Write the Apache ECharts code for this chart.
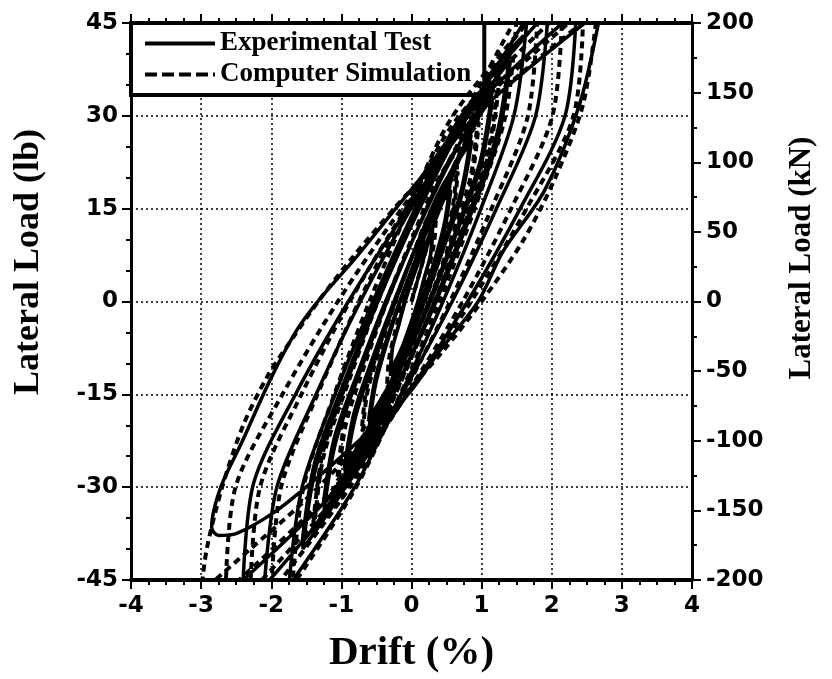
<!DOCTYPE html>
<html>
<head>
<meta charset="utf-8">
<script src="https://cdn.jsdelivr.net/npm/echarts@6/dist/echarts.min.js"></script>
<style>
html,body{margin:0;padding:0;background:#fff;}
#chart{width:832px;height:679px;}
</style>
</head>
<body>
<div id="chart"></div>
<script>
// Tick values
const driftTicks = [-4, -3, -2, -1, 0, 1, 2, 3, 4];
const loadLbTicks = [-45, -30, -15, 0, 15, 30, 45];
const loadKnTicks = [-200, -150, -100, -50, 0, 50, 100, 150, 200];

// Series / axis names
const seriesNames = ['Experimental Test', 'Computer Simulation'];
const axisNames = {x: 'Drift (%)', left: 'Lateral Load (lb)', right: 'Lateral Load (kN)'};

// Experimental test hysteresis: [drift %, lateral load lb]
const experimentalTest = [
  [0,0],
  [0.30,12],[0.28,8],[0.19,4],[0.10,0],[-0.01,-4],[-0.13,-8],[-0.30,-12],[-0.28,-8],[-0.19,-4],[-0.10,0],[0.01,4],[0.13,8],
  [0.29,11],[0.27,7.5],[0.18,3.8],[0.09,0],[-0.02,-3.8],[-0.14,-7.5],[-0.29,-11],[-0.27,-7.5],[-0.18,-3.8],[-0.09,0],[0.02,3.8],[0.14,7.5],
  [0.55,19],[0.47,12.7],[0.32,6.3],[0.14,0],[-0.07,-6.7],[-0.29,-13.3],[-0.60,-20],[-0.51,-13.3],[-0.35,-6.7],[-0.16,0],[0.04,6.3],[0.25,12.7],
  [0.56,18],[0.48,12],[0.33,6],[0.15,0],[-0.06,-6.3],[-0.28,-12.6],[-0.61,-19],[-0.52,-12.6],[-0.36,-6.3],[-0.17,0],[0.03,6],[0.24,12],
  [0.85,27],[0.71,18],[0.45,9],[0.17,0],[-0.15,-9.3],[-0.50,-18.7],[-0.95,-28],[-0.80,-18.7],[-0.53,-9.3],[-0.23,0],[0.07,9],[0.41,18],
  [0.86,26],[0.72,17.3],[0.46,8.7],[0.18,0],[-0.14,-9],[-0.49,-18],[-0.96,-27],[-0.82,-18],[-0.55,-9],[-0.25,0],[0.06,8.7],[0.40,17.3],
  [1.15,34],[0.98,22.7],[0.63,11.3],[0.25,0],[-0.17,-11.3],[-0.63,-22.7],[-1.25,-34],[-1.08,-22.7],[-0.73,-11.3],[-0.35,0],[0.07,11.3],[0.53,22.7],
  [1.16,33],[0.99,22],[0.64,11],[0.27,0],[-0.16,-11],[-0.62,-22],[-1.26,-33],[-1.10,-22],[-0.75,-11],[-0.37,0],[0.06,11],[0.52,22],
  [1.40,40],[1.21,26.7],[0.79,13.3],[0.33,0],[-0.19,-13.3],[-0.76,-26.7],[-1.55,-40],[-1.36,-26.7],[-0.94,-13.3],[-0.48,0],[0.04,13.3],[0.61,26.7],
  [1.41,39],[1.23,26],[0.81,13],[0.35,0],[-0.18,-13],[-0.75,-26],[-1.56,-39],[-1.38,-26],[-0.96,-13],[-0.50,0],[0.03,13],[0.60,26],
  [1.65,46],[1.46,30],[0.99,15],[0.45,0],[-0.15,-15],[-0.81,-30],[-1.75,-46],[-1.56,-30],[-1.09,-15],[-0.55,0],[0.05,15],[0.71,30],
  [1.95,47],[1.77,30],[1.21,15],[0.58,0],[-0.14,-15],[-0.94,-30],[-2.10,-46],[-1.92,-30],[-1.36,-15],[-0.73,0],[-0.01,15],[0.79,30],
  [2.35,47],[2.19,30],[1.55,15],[0.80,0],[-0.04,-14.7],[-0.98,-29.3],[-2.40,-45],[-2.25,-29.3],[-1.64,-14.7],[-0.90,0],[-0.05,15],[0.91,30],
  [2.70,47],[2.40,32],[1.90,18],[1.30,8],[0.95,0],[0.40,-8],[-0.05,-15],[-0.70,-22],[-1.40,-29],[-1.95,-34],[-2.50,-37.5],[-2.75,-37.8],[-2.85,-36.5],
  [-2.72,-30],[-2.43,-23],[-2.00,-12.3],[-1.64,-4.7],[-1.30,0.5],[-0.80,7],[-0.30,14],[0.20,21],[0.75,30],[1.20,38],[1.60,43]
];

// Computer simulation hysteresis: [drift %, lateral load lb]
const computerSimulation = [
  [0,0],
  [0.35,14],[0.32,9.3],[0.23,4.7],[0.12,0],[-0.01,-4.7],[-0.14,-9.3],[-0.35,-14],[-0.32,-9.3],[-0.23,-4.7],[-0.12,0],[0.01,4.7],[0.14,9.3],
  [0.65,22],[0.58,14.7],[0.39,7.3],[0.18,0],[-0.06,-7.3],[-0.33,-14.7],[-0.70,-22],[-0.63,-14.7],[-0.44,-7.3],[-0.23,0],[0.01,7.3],[0.28,14.7],
  [0.66,21],[0.59,14],[0.40,7],[0.19,0],[-0.05,-7],[-0.32,-14],[-0.71,-21],[-0.64,-14],[-0.45,-7],[-0.24,0],[0.00,7],[0.27,14],
  [0.95,30],[0.84,20],[0.56,10],[0.25,0],[-0.10,-10],[-0.49,-20],[-1.05,-30],[-0.94,-20],[-0.66,-10],[-0.35,0],[0.00,10],[0.39,20],
  [0.96,29],[0.85,19.3],[0.57,9.7],[0.26,0],[-0.09,-9.7],[-0.48,-19.3],[-1.06,-29],[-0.95,-19.3],[-0.67,-9.7],[-0.36,0],[-0.01,9.7],[0.38,19.3],
  [1.25,38],[1.11,25.3],[0.74,12.7],[0.33,0],[-0.14,-12.7],[-0.66,-25.3],[-1.40,-38],[-1.26,-25.3],[-0.89,-12.7],[-0.48,0],[-0.01,12.7],[0.51,25.3],
  [1.26,37],[1.12,24.7],[0.75,12.3],[0.34,0],[-0.13,-12.3],[-0.65,-24.7],[-1.41,-37],[-1.27,-24.7],[-0.90,-12.3],[-0.49,0],[-0.02,12.3],[0.50,24.7],
  [1.50,46],[1.34,30],[0.90,15],[0.40,0],[-0.16,-15],[-0.79,-30],[-1.70,-46],[-1.54,-30],[-1.10,-15],[-0.60,0],[-0.04,15],[0.59,30],
  [1.80,47],[1.66,30],[1.14,15],[0.55,0],[-0.12,-15],[-0.88,-30],[-2.00,-47],[-1.86,-30],[-1.34,-15],[-0.75,0],[-0.08,15],[0.68,30],
  [2.15,47],[2.01,30],[1.42,15],[0.73,0],[-0.07,-15],[-0.96,-30],[-2.30,-47],[-2.16,-30],[-1.57,-15],[-0.88,0],[-0.08,15],[0.81,30],
  [2.45,47],[2.31,30],[1.64,15],[0.85,0],[-0.06,-15],[-1.09,-30],[-2.65,-47],[-2.51,-30],[-1.84,-15],[-1.05,0],[-0.14,15],[0.89,30],
  [2.65,47],[2.45,32],[2.05,20],[1.60,10],[1.00,0],[0.45,-8],[-0.10,-15],[-0.90,-25],[-1.60,-33],[-2.30,-40],[-3.00,-47],
  [-2.92,-40],[-2.70,-30],[-2.40,-20],[-2.05,-12],[-1.70,-6],[-1.33,0],[-0.85,7],[-0.25,15],[0.30,22],[0.80,30],[1.30,40],[1.80,47]
];

const chart = echarts.init(document.getElementById('chart'), null, {renderer: 'canvas'});
const tickFont = {color: '#000', fontFamily: 'DejaVu Sans, Arial, sans-serif', fontWeight: 'bold', fontSize: 23};
const serif = 'Liberation Serif, Times New Roman, serif';
const nameFont = {color: '#000', fontFamily: serif, fontWeight: 'bold'};

function stepOf(arr) { return arr[1] - arr[0]; }

chart.setOption({
  animation: false,
  backgroundColor: '#fff',
  grid: {left: 131, right: 140, top: 23, bottom: 96, containLabel: false},
  legend: {
    left: 131, top: 23,
    orient: 'vertical',
    data: [
      {name: seriesNames[0], lineStyle: {width: 4, type: 'solid', color: '#000'},
       itemStyle: {color: 'rgba(0,0,0,0)', borderWidth: 0, opacity: 0}},
      {name: seriesNames[1], lineStyle: {width: 4, type: [12, 5], color: '#000'},
       itemStyle: {color: 'rgba(0,0,0,0)', borderWidth: 0, opacity: 0}}
    ],
    itemWidth: 70, itemHeight: 28, itemGap: 4,
    padding: [7, 13, 7, 12],
    backgroundColor: '#fff',
    borderColor: '#000', borderWidth: 4, borderRadius: 0,
    textStyle: Object.assign({fontSize: 27}, nameFont),
    selectedMode: false
  },
  graphic: [{
    type: 'text', x: 29, y: 262, rotation: Math.PI / 2, silent: true,
    style: {text: axisNames.left, font: 'bold 36px ' + serif, fill: '#000', align: 'center', verticalAlign: 'middle'}
  }, {
    type: 'text', x: 802, y: 258, rotation: Math.PI / 2, silent: true,
    style: {text: axisNames.right, font: 'bold 31px ' + serif, fill: '#000', align: 'center', verticalAlign: 'middle'}
  }],
  xAxis: [{
    type: 'value', position: 'bottom',
    min: driftTicks[0], max: driftTicks[driftTicks.length - 1], interval: stepOf(driftTicks),
    name: axisNames.x, nameLocation: 'middle', nameGap: 53,
    nameTextStyle: Object.assign({fontSize: 41}, nameFont),
    axisLine: {show: true, onZero: false, lineStyle: {color: '#000', width: 4}},
    axisTick: {show: true, inside: false, length: 9, lineStyle: {color: '#000', width: 2}},
    minorTick: {show: true, splitNumber: 4, length: 5, lineStyle: {color: '#000', width: 2}},
    axisLabel: Object.assign({margin: 15}, tickFont),
    splitLine: {show: true, lineStyle: {color: '#000', width: 1.5, type: [2, 3]}}
  }, {
    type: 'value', position: 'top',
    min: driftTicks[0], max: driftTicks[driftTicks.length - 1], interval: stepOf(driftTicks),
    axisLine: {show: true, onZero: false, lineStyle: {color: '#000', width: 4}},
    axisTick: {show: true, inside: false, length: 9, lineStyle: {color: '#000', width: 2}},
    minorTick: {show: true, splitNumber: 4, length: 5, lineStyle: {color: '#000', width: 2}},
    axisLabel: {show: false},
    splitLine: {show: false}
  }],
  yAxis: [{
    type: 'value', position: 'left',
    min: loadLbTicks[0], max: loadLbTicks[loadLbTicks.length - 1], interval: stepOf(loadLbTicks),
    axisLine: {show: true, onZero: false, lineStyle: {color: '#000', width: 3}},
    axisTick: {show: true, inside: false, length: 9, lineStyle: {color: '#000', width: 2}},
    minorTick: {show: true, splitNumber: 3, length: 5, lineStyle: {color: '#000', width: 2}},
    axisLabel: Object.assign({margin: 13}, tickFont),
    splitLine: {show: true, lineStyle: {color: '#000', width: 1.5, type: [2, 3]}}
  }, {
    type: 'value', position: 'right',
    min: loadKnTicks[0], max: loadKnTicks[loadKnTicks.length - 1], interval: stepOf(loadKnTicks),
    axisLine: {show: true, onZero: false, lineStyle: {color: '#000', width: 3}},
    axisTick: {show: true, inside: false, length: 9, lineStyle: {color: '#000', width: 2}},
    minorTick: {show: true, splitNumber: 2, length: 5, lineStyle: {color: '#000', width: 2}},
    axisLabel: Object.assign({margin: 14}, tickFont),
    splitLine: {show: false}
  }],
  series: [{
    name: seriesNames[0], type: 'line', xAxisIndex: 0, yAxisIndex: 0,
    data: experimentalTest, symbol: 'none', showSymbol: false, smooth: 0.3, clip: true,
    lineStyle: {color: '#000', width: 3.5, type: 'solid'},
    itemStyle: {color: '#000'}, z: 3
  }, {
    name: seriesNames[1], type: 'line', xAxisIndex: 0, yAxisIndex: 0,
    data: computerSimulation, symbol: 'none', showSymbol: false, smooth: 0.3, clip: true,
    lineStyle: {color: '#000', width: 4, type: [7, 5]},
    itemStyle: {color: '#000'}, z: 4
  }]
});
</script>
</body>
</html>
